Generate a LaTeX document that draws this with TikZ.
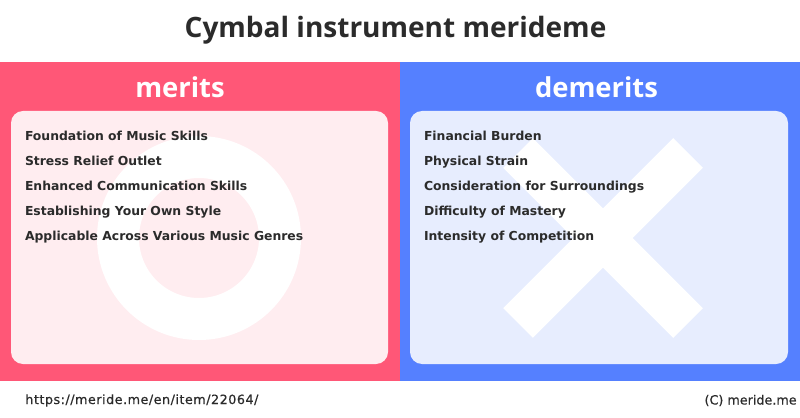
\documentclass[tikz,border=0pt]{standalone}
\usepackage{fontspec}
\setmainfont{DejaVu Sans}
\newfontfamily\headfont{Open Sans}
\usetikzlibrary{positioning}
\definecolor{meritred}{HTML}{FF5777}
\definecolor{meritpale}{HTML}{FFEDF0}
\definecolor{demeritblue}{HTML}{5580FF}
\definecolor{demeritpale}{HTML}{E7EDFE}
\definecolor{inkgrey}{HTML}{2B2B2B}
\tikzset{
	item/.style = { anchor = north west, inner sep = 0, outer sep = 0, text = inkgrey, font = \fontsize{7.05}{8}\selectfont\bfseries, text height = 6pt, text depth = 2pt, minimum height = 0.5cm },
	heading/.style = { text = white, inner sep = 0, font = \headfont\fontsize{15.6}{18}\selectfont\bfseries },
	footer/.style = { text = inkgrey, inner sep = 0, font = \fontsize{7.25}{8}\selectfont\addfontfeature{FakeBold = 0.6} }
}

\begin{document}
\begin{tikzpicture}[x = 0.02cm, y = -0.02cm]
		\useasboundingbox (0, 0) rectangle (800, 418);

		\fill [meritred]    (0, 62)   rectangle (400, 381);
		\fill [demeritblue] (400, 62) rectangle (800, 381);
		\fill [meritpale, rounded corners = 0.24cm]   (11, 111)  rectangle (388, 364);
		\fill [demeritpale, rounded corners = 0.24cm] (410, 111) rectangle (788, 364);

		% big marks behind the lists
		\draw [white, line width = 0.84cm] (199, 238) circle (81);
		\draw [white, line width = 0.84cm] (518, 323) -- (688, 153);
		\draw [white, line width = 0.84cm] (518, 153) -- (688, 323);

		\node [text = inkgrey, inner sep = 0, font = \headfont\fontsize{15.95}{20}\selectfont\bfseries] (title) at (395.5, 30) {Cymbal instrument merideme};
		\node [heading] (merits)   at (180, 87)   {merits};
		\node [heading] (demerits) at (596.5, 87) {demerits};

		\node [item] (m1) at (25, 124.2) {Foundation of Music Skills};
		\node [item, below = 0 of m1.south west, anchor = north west] (m2) {Stress Relief Outlet};
		\node [item, below = 0 of m2.south west, anchor = north west] (m3) {Enhanced Communication Skills};
		\node [item, below = 0 of m3.south west, anchor = north west] (m4) {Establishing Your Own Style};
		\node [item, below = 0 of m4.south west, anchor = north west] (m5) {Applicable Across Various Music Genres};

		\node [item] (d1) at (424, 124.2) {Financial Burden};
		\node [item, below = 0 of d1.south west, anchor = north west] (d2) {Physical Strain};
		\node [item, below = 0 of d2.south west, anchor = north west] (d3) {Consideration for Surroundings};
		\node [item, below = 0 of d3.south west, anchor = north west] (d4) {Difficulty of Mastery};
		\node [item, below = 0 of d4.south west, anchor = north west] (d5) {Intensity of Competition};

		\node [footer, anchor = west] (url)  at (25, 400.5)  {\addfontfeature{LetterSpace = 4}https://meride.me/en/item/22064/};
		\node [footer, anchor = east] (copy) at (797, 400.5) {(C) meride.me};
	\end{tikzpicture}
\end{document}
